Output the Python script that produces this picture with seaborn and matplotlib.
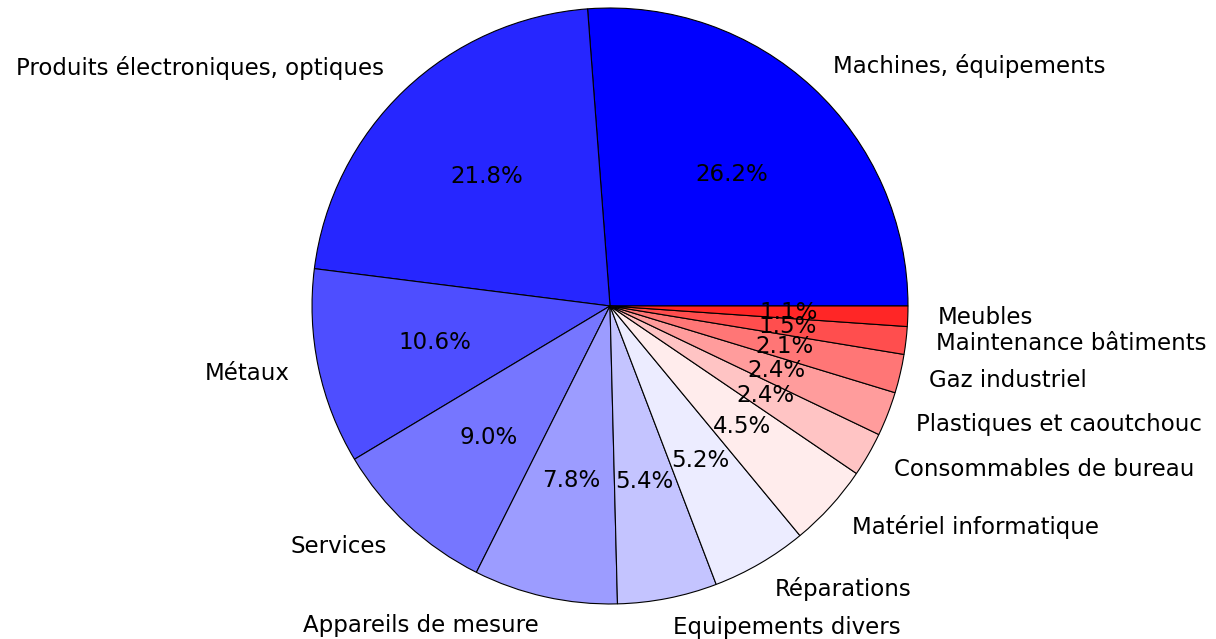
import numpy as np
import matplotlib
matplotlib.use("Agg")
import matplotlib.pyplot as plt
import seaborn as sns

# ====== Data ======
categories = [
    "Machines, équipements",
    "Produits électroniques, optiques",
    "Métaux",
    "Services",
    "Appareils de mesure",
    "Equipements divers",
    "Réparations",
    "Matériel informatique",
    "Consommables de bureau",
    "Plastiques et caoutchouc",
    "Gaz industriel",
    "Maintenance bâtiments",
    "Meubles",
]
shares = [26.2, 21.8, 10.6, 9.0, 7.8, 5.4, 5.2, 4.5, 2.4, 2.4, 2.1, 1.5, 1.1]

# ====== Style ======
sns.set_style("white")
plt.rcParams["font.family"] = ["DejaVu Sans"]
plt.rcParams["text.color"] = "black"

# blue -> white -> red, one step per slice
colors = plt.cm.bwr(np.arange(len(shares)) / len(shares))

fig = plt.figure(figsize=(12.16, 6.39), dpi=100)
ax = fig.add_axes([0.2566, 0.0548, 0.4901, 0.9327])

ax.pie(
    shares,
    labels=categories,
    colors=colors,
    autopct="%1.1f%%",
    startangle=0,
    counterclock=True,
    wedgeprops={"edgecolor": "black", "linewidth": 0.8},
    textprops={"fontsize": 16.5, "color": "black"},
)
ax.set_xlim(-1, 1)
ax.set_ylim(-1, 1)
ax.set_aspect("equal")
ax.axis("off")

fig.savefig("out.png", dpi=100)
